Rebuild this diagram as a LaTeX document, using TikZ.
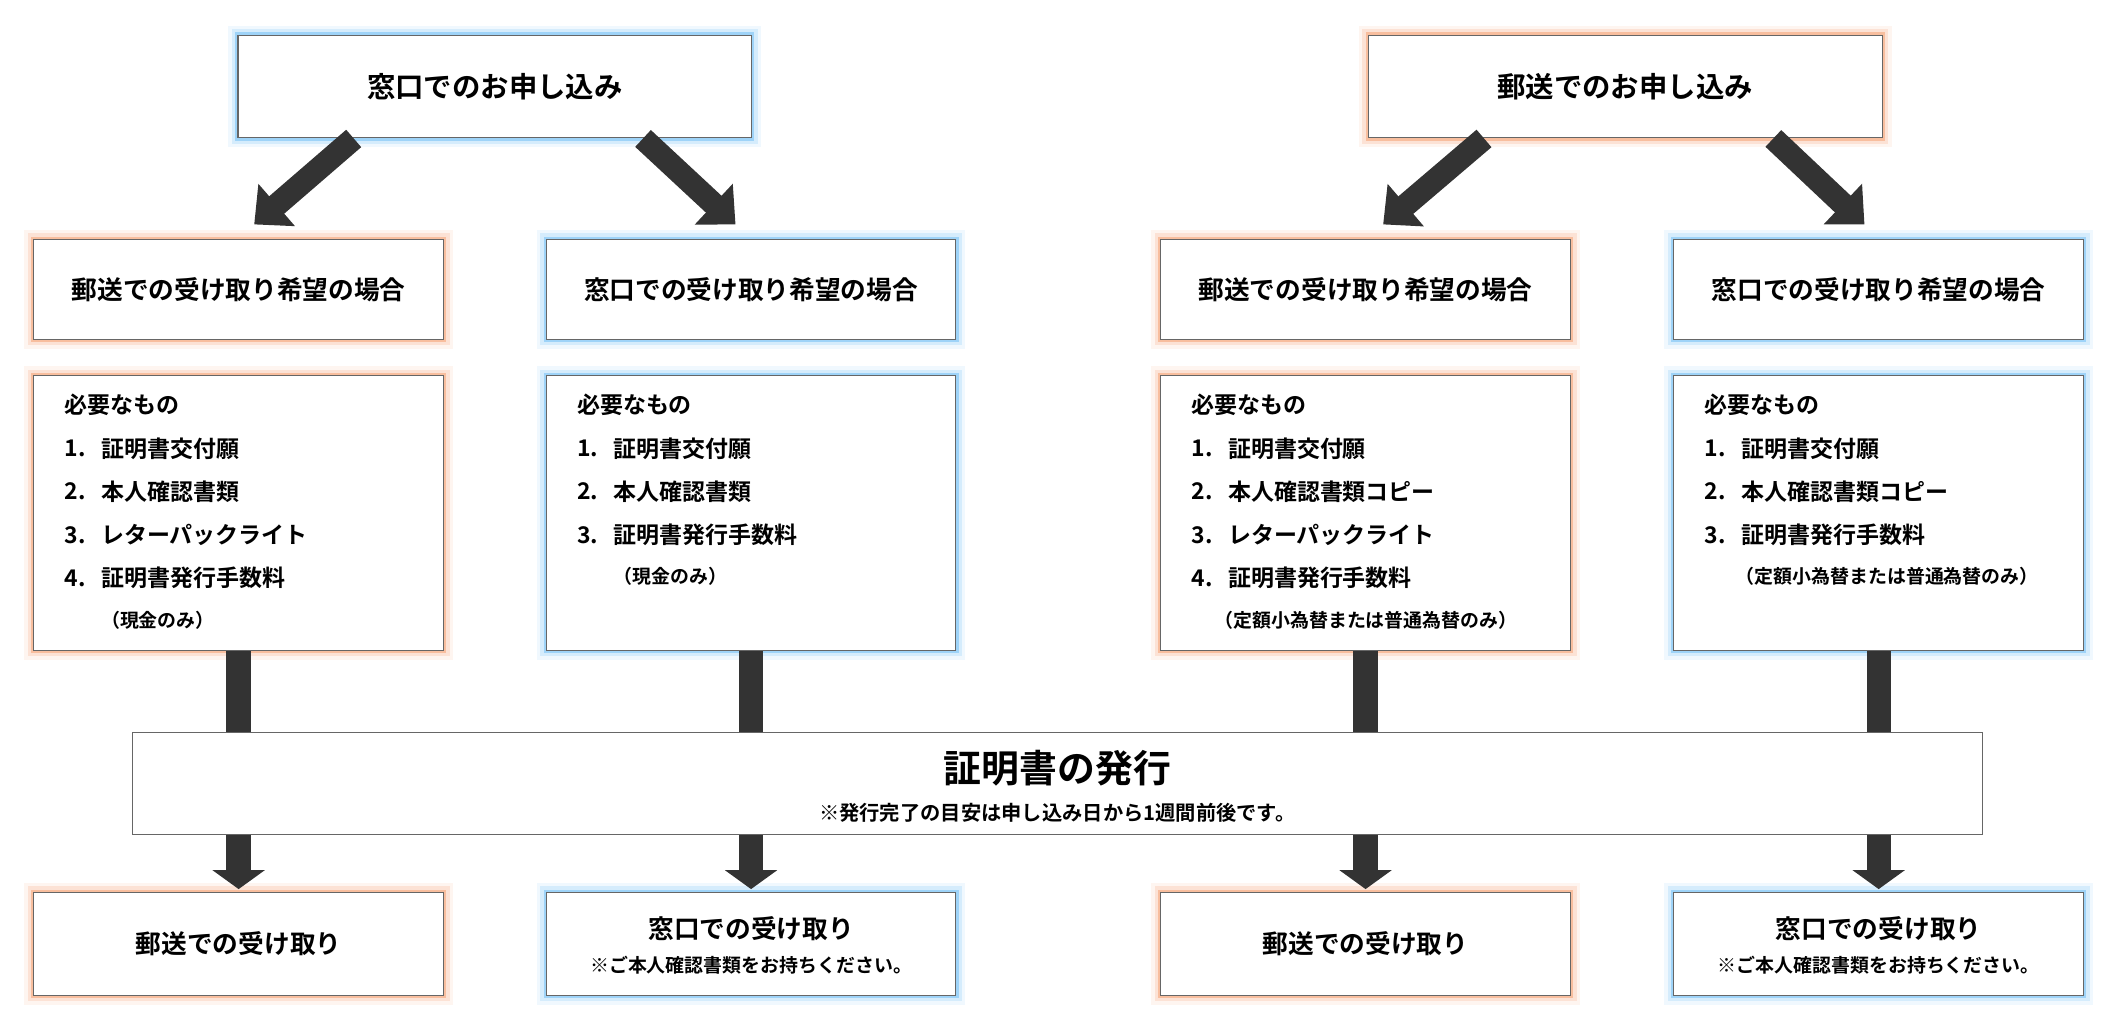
\documentclass[tikz,border=0pt]{standalone}
\usepackage{fontspec}
\setmainfont{Noto Sans CJK JP}[BoldFont={* Bold}]
\usetikzlibrary{arrows.meta,calc}
\definecolor{og}{HTML}{F07A3A}
\definecolor{bg}{HTML}{3AA6F0}
\definecolor{ar}{HTML}{333333}
\begin{document}
\begin{tikzpicture}[x=1pt,y=-1pt,
  box/.style={draw=black!60, fill=white, line width=0.8pt, inner sep=0pt},
  glow/.style={preaction={draw=#1,line width=14pt,opacity=.08},
               preaction={draw=#1,line width=9pt,opacity=.15},
               preaction={draw=#1,line width=4pt,opacity=.35}},
  big/.style={font=\fontsize{21}{25}\selectfont\bfseries},
  mid/.style={font=\fontsize{19}{23}\selectfont\bfseries},
  lst/.style={font=\fontsize{17}{20}\selectfont\bfseries, anchor=west, inner sep=0pt},
  note/.style={font=\fontsize{14}{17}\selectfont\bfseries, inner sep=0pt},
  arr/.style={draw=ar, line width=17pt, -{Triangle[length=22pt,width=40pt]}},
  varr/.style={draw=ar, line width=18pt, -{Triangle[length=14pt,width=38pt]}}]
\useasboundingbox (0,0) rectangle (1568,762);
% top
\node[box,glow=bg,big,minimum width=380pt,minimum height=76pt] (tl) at (366,64) {窓口でのお申し込み};
\node[box,glow=og,big,minimum width=380pt,minimum height=76pt] (tr) at (1202,64) {郵送でのお申し込み};
% row 2
\foreach \n/\c/\x/\t in {a/og/176.5/郵送での受け取り希望の場合, b/bg/555.5/窓口での受け取り希望の場合, c/og/1010/郵送での受け取り希望の場合, d/bg/1389.5/窓口での受け取り希望の場合}{
  \node[box,glow=\c,mid,minimum width=303pt,minimum height=74pt] (h\n) at (\x,214) {\t};
  \node[box,glow=\c,minimum width=303pt,minimum height=203pt] (r\n) at (\x,379.5) {};
}
% bottom
\node[box,glow=og,mid,minimum width=303pt,minimum height=76pt] (ba) at (176.5,698) {郵送での受け取り};
\node[box,glow=bg,minimum width=303pt,minimum height=76pt] (bb) at (555.5,698) {};
\node[box,glow=og,mid,minimum width=303pt,minimum height=76pt] (bc) at (1010,698) {郵送での受け取り};
\node[box,glow=bg,minimum width=303pt,minimum height=76pt] (bd) at (1389.5,698) {};
\foreach \n in {b,d}{
  \node[mid] (bt\n) at ($(b\n.center)+(0,-11)$) {窓口での受け取り};
  \node[note] (bn\n) at ($(b\n.center)+(0,16)$) {※ご本人確認書類をお持ちください。};
}
% diagonal arrows
\coordinate (e1) at (188,166); \coordinate (e2) at (544,166);
\coordinate (e3) at (1023,166); \coordinate (e4) at (1379,166);
\draw[arr] ($(tl.south west)+(86,0)$) -- (e1);
\draw[arr] ($(tl.south west)+(300,0)$) -- (e2);
\draw[arr] ($(tr.south west)+(86,0)$) -- (e3);
\draw[arr] ($(tr.south west)+(300,0)$) -- (e4);
% vertical arrows
\foreach \n in {a,b,c,d}{
  \draw[varr] (r\n.south) -- ($(b\n.north)+(0,-2)$);
}
% middle
\node[box,minimum width=1368pt,minimum height=75pt] (m) at (782,579.5) {};
\node[font=\fontsize{28}{32}\selectfont\bfseries] (mt) at (782,568) {証明書の発行};
\node[note,font=\fontsize{15}{18}\selectfont\bfseries] (ms) at (782,601) {※発行完了の目安は申し込み日から1週間前後です。};
% lists
\foreach \n in {a,b,c,d}{
  \node[lst] (l\n0) at ($(r\n.north west)+(23,22)$) {必要なもの};
  \node[lst] (n\n1) at ($(r\n.north west)+(23,54)$) {1.};
  \node[lst] (n\n2) at ($(r\n.north west)+(23,86)$) {2.};
  \node[lst] (n\n3) at ($(r\n.north west)+(23,118)$) {3.};
  \node[lst] (l\n1) at ($(r\n.north west)+(50,54)$) {証明書交付願};
}
\node[lst] (la2) at ($(ra.north west)+(50,86)$) {本人確認書類};
\node[lst] (la3) at ($(ra.north west)+(50,118)$) {レターパックライト};
\node[lst] (na4) at ($(ra.north west)+(23,150)$) {4.};
\node[lst] (la4) at ($(ra.north west)+(50,150)$) {証明書発行手数料};
\node[note,anchor=west] (la5) at ($(ra.north west)+(50,181)$) {（現金のみ）};
\node[lst] (lb2) at ($(rb.north west)+(50,86)$) {本人確認書類};
\node[lst] (lb3) at ($(rb.north west)+(50,118)$) {証明書発行手数料};
\node[note,anchor=west] (lb5) at ($(rb.north west)+(50,149)$) {（現金のみ）};
\node[lst] (lc2) at ($(rc.north west)+(50,86)$) {本人確認書類コピー};
\node[lst] (lc3) at ($(rc.north west)+(50,118)$) {レターパックライト};
\node[lst] (nc4) at ($(rc.north west)+(23,150)$) {4.};
\node[lst] (lc4) at ($(rc.north west)+(50,150)$) {証明書発行手数料};
\node[note,anchor=west] (lc5) at ($(rc.north west)+(40,181)$) {（定額小為替または普通為替のみ）};
\node[lst] (ld2) at ($(rd.north west)+(50,86)$) {本人確認書類コピー};
\node[lst] (ld3) at ($(rd.north west)+(50,118)$) {証明書発行手数料};
\node[note,anchor=west] (ld5) at ($(rd.north west)+(46,149)$) {（定額小為替または普通為替のみ）};
\end{tikzpicture}
\end{document}
